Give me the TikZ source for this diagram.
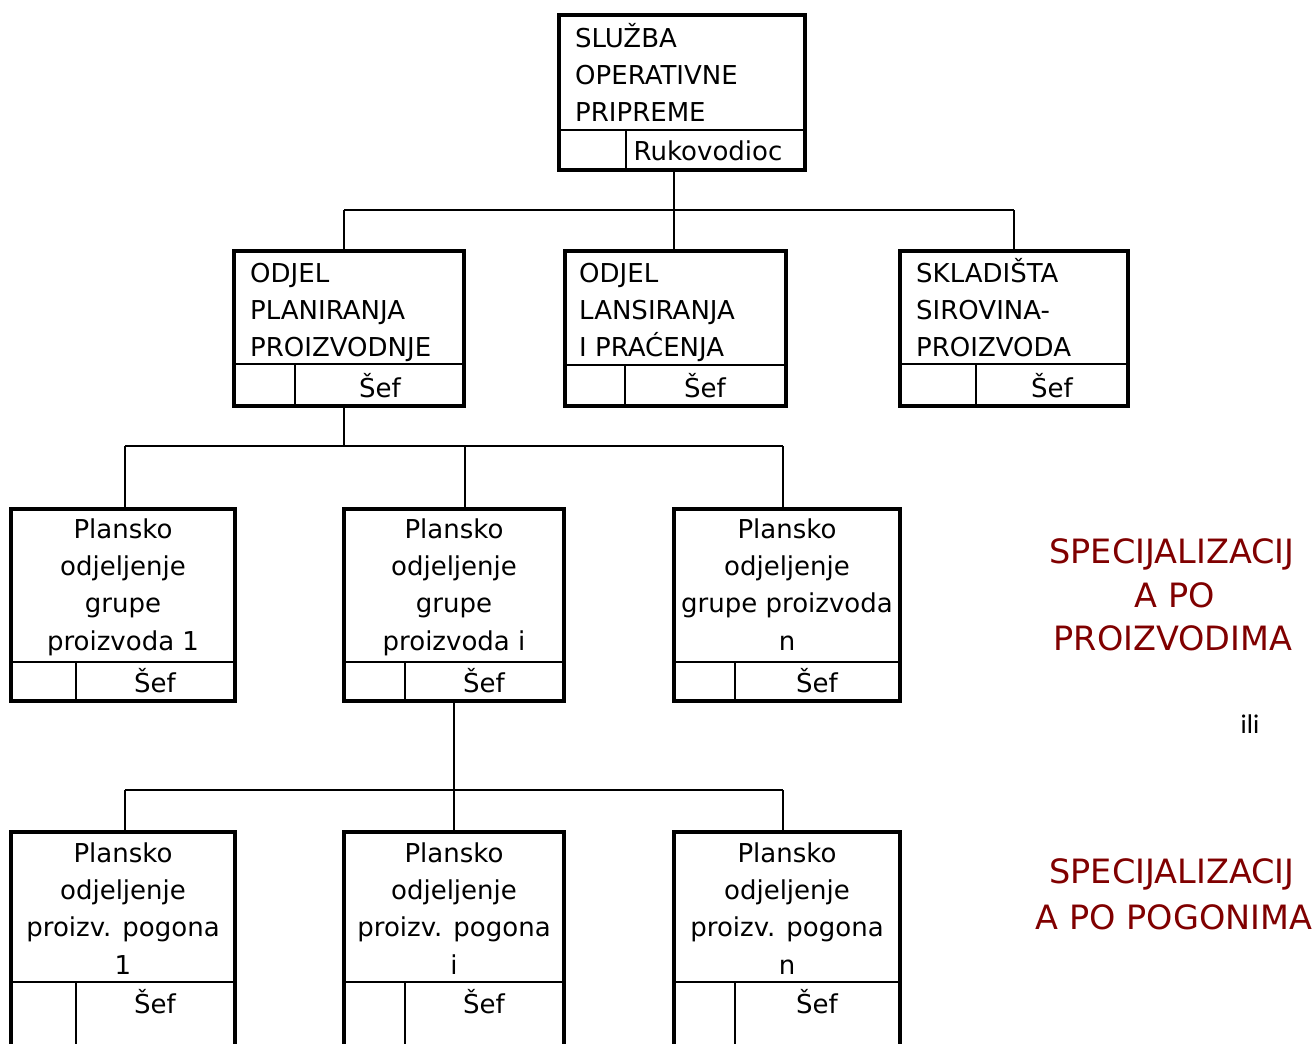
\documentclass[tikz,border=0pt]{standalone}
\usepackage{fontspec}
\setmainfont{DejaVu Sans}
\newfontfamily\ilifont{Carlito}
\usetikzlibrary{fit}
\definecolor{maroon}{HTML}{800000}

\tikzset{
  box/.style={draw=black, line width=4pt, inner sep=0pt, rectangle},
  cell/.style={draw=black, line width=2pt},
  conn/.style={draw=black, line width=2pt},
  txt/.style={inner sep=0pt, font=\fontsize{26}{30}\selectfont},
  note/.style={inner sep=0pt, text=maroon, font=\fontsize{33.5}{38}\selectfont},
}

% box with a bottom row split into two cells
% #1 name, #2 left, #3 top, #4 right, #5 bottom, #6 row line y, #7 cell split x
\newcommand\orgbox[7]{%
  \node[box, fit={(#2,#3) (#4,#5)}] (#1) {};
  \coordinate (#1-d) at (#7,#6);
  \draw[cell] (#1.west |- #1-d) -- (#1.east |- #1-d);
  \draw[cell] (#1-d) -- (#1-d |- #1.south);
}
% left aligned title lines: #1 name, #2 x, #3 first baseline, #4 lines
\newcommand\lefttitle[4]{%
  \foreach \t [count=\i] in {#4}
    \node[txt, anchor=base west] (#1-t\i) at (#2,{#3+37.4*(\i-1)}) {\t};
}
% centred title lines
\newcommand\midtitle[4]{%
  \foreach \t [count=\i] in {#4}
    \node[txt, anchor=base] (#1-t\i) at (#2,{#3+37.4*(\i-1)}) {\t};
}

\begin{document}
\begin{tikzpicture}[x=1pt, y=-1pt]
\useasboundingbox (0,0) rectangle (1315,1044);
\clip (0,0) rectangle (1315,1044);

% top level
\orgbox{S}{559}{15}{805}{170}{130}{626}
\lefttitle{S}{575}{47}{SLUŽBA,OPERATIVNE,PRIPREME}
\node[txt, anchor=base] (S-r) at (708,160) {Rukovodioc};

% second level
\orgbox{A}{234}{251}{464}{406}{364}{295}
\lefttitle{A}{250}{282}{ODJEL,PLANIRANJA,PROIZVODNJE}
\node[txt, anchor=base] (A-r) at (380,397) {Šef};

\orgbox{B}{565}{251}{786}{406}{365}{625}
\lefttitle{B}{579}{282}{ODJEL,LANSIRANJA,I PRAĆENJA}
\node[txt, anchor=base] (B-r) at (705,397) {Šef};

\orgbox{C}{900}{251}{1128}{406}{364}{976}
\lefttitle{C}{916}{282}{SKLADIŠTA,SIROVINA-,PROIZVODA}
\node[txt, anchor=base] (C-r) at (1052,397) {Šef};

% third level: product groups
\orgbox{G1}{11}{509}{235}{701}{662}{76}
\midtitle{G1}{123}{538}{Plansko,odjeljenje,grupe,proizvoda 1}
\node[txt, anchor=base] (G1-r) at (155,692) {Šef};

\orgbox{G2}{344}{509}{564}{701}{662}{405}
\midtitle{G2}{454}{538}{Plansko,odjeljenje,grupe,proizvoda i}
\node[txt, anchor=base] (G2-r) at (484,692) {Šef};

\orgbox{G3}{674}{509}{900}{701}{662}{735}
\midtitle{G3}{787}{538}{Plansko,odjeljenje,grupe proizvoda,n}
\node[txt, anchor=base] (G3-r) at (817,692) {Šef};

% fourth level: plants
\orgbox{P1}{11}{832}{235}{1090}{982}{76}
\midtitle{P1}{123}{862}{Plansko,odjeljenje,proizv. pogona,1}
\node[txt, anchor=base] (P1-r) at (155,1013) {Šef};

\orgbox{P2}{344}{832}{564}{1090}{982}{405}
\midtitle{P2}{454}{862}{Plansko,odjeljenje,proizv. pogona,i}
\node[txt, anchor=base] (P2-r) at (484,1013) {Šef};

\orgbox{P3}{674}{832}{900}{1090}{982}{735}
\midtitle{P3}{787}{862}{Plansko,odjeljenje,proizv. pogona,n}
\node[txt, anchor=base] (P3-r) at (817,1013) {Šef};

% connectors
\coordinate (j1a) at (344,210);
\coordinate (j1b) at (674,210);
\coordinate (j1c) at (1014,210);
\draw[conn] (S.south -| j1b) -- (j1b);
\draw[conn] (j1a) -- (j1c);
\draw[conn] (j1a) -- (j1a |- A.north);
\draw[conn] (j1b) -- (j1b |- B.north);
\draw[conn] (j1c) -- (j1c |- C.north);

\coordinate (j2a) at (125,446);
\coordinate (j2b) at (465,446);
\coordinate (j2c) at (783,446);
\coordinate (j2s) at (344,446);
\draw[conn] (A.south -| j2s) -- (j2s);
\draw[conn] (j2a) -- (j2c);
\draw[conn] (j2a) -- (j2a |- G1.north);
\draw[conn] (j2b) -- (j2b |- G2.north);
\draw[conn] (j2c) -- (j2c |- G3.north);

\coordinate (j3a) at (125,790);
\coordinate (j3b) at (454,790);
\coordinate (j3c) at (783,790);
\draw[conn] (G2.south -| j3b) -- (j3b |- P2.north);
\draw[conn] (j3a) -- (j3c);
\draw[conn] (j3a) -- (j3a |- P1.north);
\draw[conn] (j3c) -- (j3c |- P3.north);

% side notes
\node[note, anchor=base] (n1a) at (1172,563) {SPECIJALIZACIJ};
\node[note, anchor=base] (n1b) at (1175,607) {A PO};
\node[note, anchor=base] (n1c) at (1173,650) {PROIZVODIMA};
\node[inner sep=0pt, anchor=base, font=\ilifont\fontsize{27}{30}\selectfont] (ili) at (1250,733) {ili};
\node[note, anchor=base] (n2a) at (1172,883) {SPECIJALIZACIJ};
\node[note, anchor=base] (n2b) at (1174,929) {A PO POGONIMA};
\end{tikzpicture}
\end{document}
